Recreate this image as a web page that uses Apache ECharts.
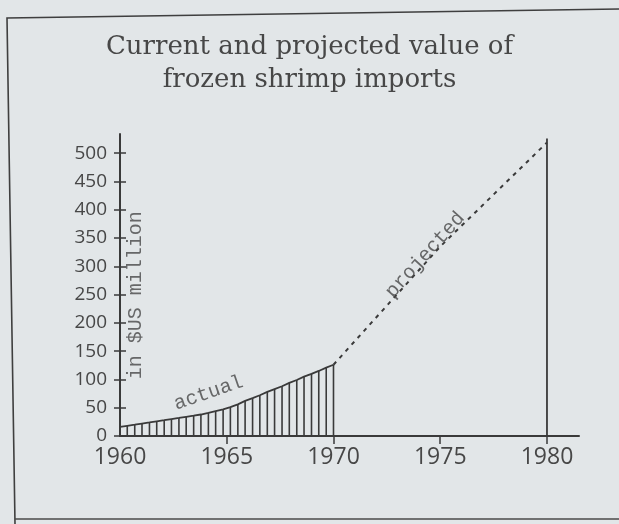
<!DOCTYPE html>
<html>
<head>
<meta charset="utf-8">
<script src="https://cdn.jsdelivr.net/npm/echarts@6.0.0/dist/echarts.min.js"></script>
<style>
  html, body { margin: 0; padding: 0; background: #e2e6e8; }
  #chart { width: 619px; height: 524px; }
</style>
</head>
<body>
<div id="chart"></div>
<script>
// ---- data ----
const titleLines = ['Current and projected value of', 'frozen shrimp imports'];
const yAxisTitle = 'in $US million';
const xTickLabels = [1960, 1965, 1970, 1975, 1980];
const yTickLabels = [0, 50, 100, 150, 200, 250, 300, 350, 400, 450, 500];

// actual values (hatched area, one vertical stroke per reading)
const actualYears = [1960.00, 1960.34, 1960.69, 1961.03, 1961.38, 1961.72, 1962.07, 1962.41, 1962.76, 1963.10,
                     1963.45, 1963.79, 1964.14, 1964.48, 1964.83, 1965.17, 1965.52, 1965.86, 1966.21, 1966.55,
                     1966.90, 1967.24, 1967.59, 1967.93, 1968.28, 1968.62, 1968.97, 1969.31, 1969.66, 1970.00];
const actualValues = [16, 18, 20, 22, 24, 26, 28, 30, 32, 34,
                      36, 38, 41, 44, 47, 51, 56, 62, 67, 72,
                      78, 83, 88, 94, 99, 105, 110, 115, 121, 126];

// projected values (dashed)
const projectedYears = [1970, 1975, 1980];
const projectedValues = [126, 335, 519];

// 1980 marker line
const marker1980Year = 1980;
const marker1980Value = 526;

// annotations (text anchored at data coordinates)
const annotations = [
  { text: yAxisTitle, year: 1960.72, value: 249, rotate: 90 },
  { text: 'actual', year: 1964.15, value: 76, rotate: 19 },
  { text: 'projected', year: 1974.3, value: 320, rotate: 48 }
];

// ---- chart ----
const ink = '#3a3a3a';
const textInk = '#474747';
const chart = echarts.init(document.getElementById('chart'), null, { renderer: 'canvas' });

const pairs = (xs, ys) => xs.map((x, i) => [x, ys[i]]);

const option = {
  backgroundColor: '#e2e6e8',
  animation: false,
  title: {
    text: titleLines.join('\n'),
    left: 'center',
    top: 26,
    textStyle: {
      fontFamily: 'DejaVu Serif',
      fontSize: 26,
      fontWeight: 'normal',
      color: textInk,
      lineHeight: 33
    }
  },
  grid: { left: 120, right: 40, top: 134, bottom: 88 },
  xAxis: {
    type: 'value',
    min: 1960,
    max: 1981.5,
    interval: 5,
    splitLine: { show: false },
    axisLine: { show: true, onZero: false, lineStyle: { color: ink, width: 2 } },
    axisTick: { show: true, length: 8, customValues: xTickLabels.slice(1), lineStyle: { color: ink, width: 1.5 } },
    axisLabel: {
      customValues: xTickLabels,
      formatter: v => String(v),
      margin: 10,
      fontFamily: 'Open Sans',
      fontSize: 23,
      color: textInk
    }
  },
  yAxis: [
    {
      type: 'value',
      min: 0,
      max: 534,
      interval: 50,
      splitLine: { show: false },
      axisLine: { show: true, lineStyle: { color: ink, width: 2 } },
      axisTick: { show: true, length: 6, customValues: yTickLabels, lineStyle: { color: ink, width: 1.5 } },
      axisLabel: {
        customValues: yTickLabels,
        margin: 13,
        fontFamily: 'Open Sans',
        fontSize: 19,
        color: textInk
      }
    },
    {
      type: 'value',
      min: 0,
      max: 534,
      interval: 50,
      position: 'left',
      splitLine: { show: false },
      axisLine: { show: false },
      axisTick: { show: true, inside: true, length: 6, customValues: yTickLabels, lineStyle: { color: ink, width: 1.5 } },
      axisLabel: { show: false }
    }
  ],
  series: [
    {
      name: 'actual hatch',
      type: 'bar',
      barWidth: 1.6,
      itemStyle: { color: ink },
      data: pairs(actualYears, actualValues),
      z: 2
    },
    {
      name: 'actual',
      type: 'line',
      symbol: 'none',
      lineStyle: { color: ink, width: 1.8 },
      data: pairs(actualYears, actualValues),
      z: 3
    },
    {
      name: 'projected',
      type: 'line',
      symbol: 'none',
      lineStyle: { color: ink, width: 2, type: [4, 5] },
      data: pairs(projectedYears, projectedValues),
      z: 3
    },
    {
      name: '1980',
      type: 'line',
      symbol: 'none',
      lineStyle: { color: ink, width: 1.8 },
      data: [[marker1980Year, 0], [marker1980Year, marker1980Value]],
      z: 3
    },
    {
      name: 'labels',
      type: 'scatter',
      symbolSize: 0,
      silent: true,
      data: annotations.map(a => ({
        value: [a.year, a.value],
        label: {
          show: true,
          position: 'inside',
          formatter: a.text,
          rotate: a.rotate,
          fontFamily: 'Liberation Mono',
          fontSize: 20,
          color: textInk
        }
      })),
      z: 4
    }
  ],
  graphic: [
    {
      type: 'polyline',
      shape: { points: [[619, 9], [7, 18], [15, 524]] },
      style: { stroke: '#3f3f3f', lineWidth: 1.6, fill: null },
      silent: true
    },
    {
      type: 'line',
      shape: { x1: 15, y1: 519, x2: 619, y2: 519 },
      style: { stroke: '#4a4a4a', lineWidth: 1.5 },
      silent: true
    }
  ]
};
chart.setOption(option);
</script>
</body>
</html>
